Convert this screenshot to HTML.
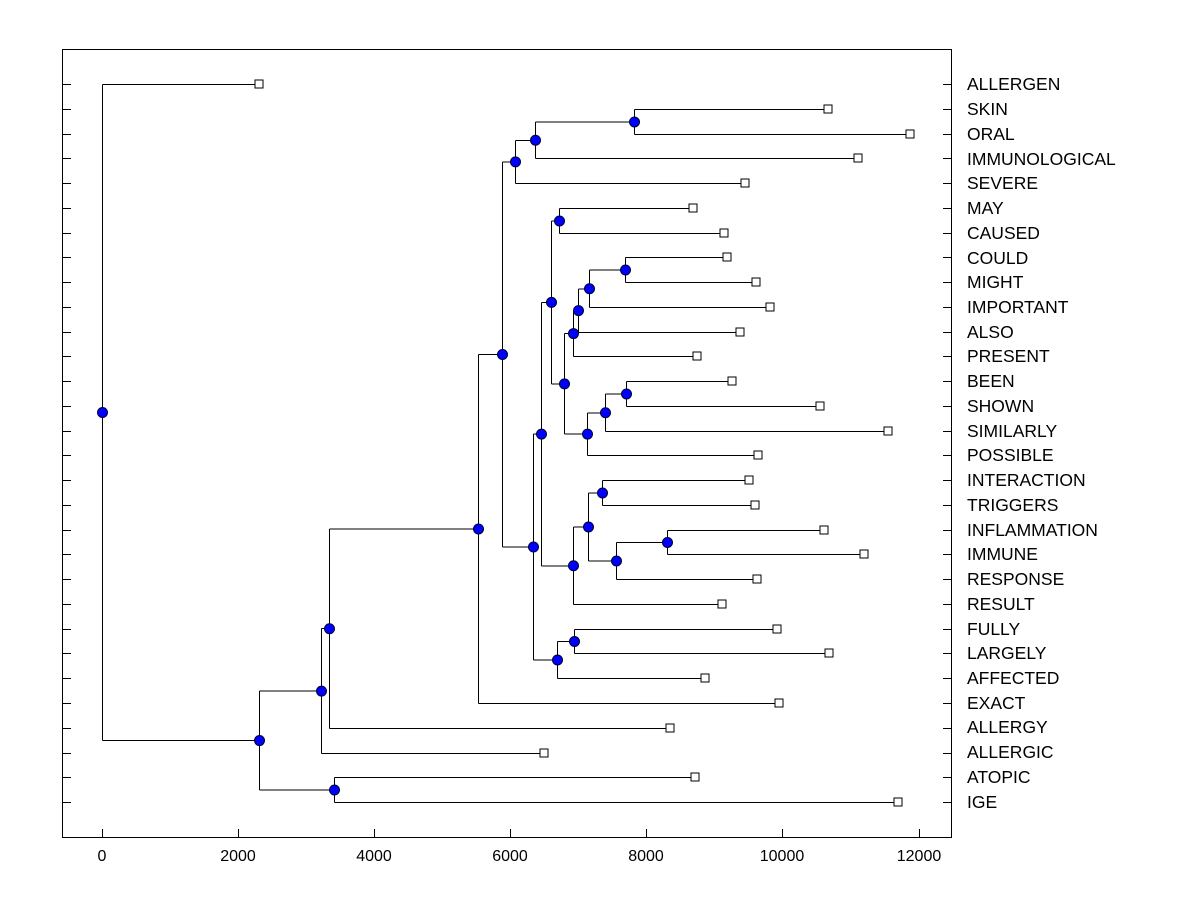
<!DOCTYPE html>
<html><head><meta charset="utf-8"><style>
html,body{margin:0;padding:0;background:#fff;}
svg{display:block;font-family:"Liberation Sans",Arial,sans-serif;}
</style></head><body>
<svg id="s" width="1200" height="900" viewBox="0 0 1200 900" xmlns="http://www.w3.org/2000/svg">
<rect x="0" y="0" width="1200" height="900" fill="#fff"/>
<rect x="62.5" y="49.5" width="889" height="788" fill="none" stroke="#000" stroke-width="1"/>
<g id="lines" stroke="#000" stroke-width="1" fill="none" shape-rendering="crispEdges"></g>
<g id="marks"></g>
<g font-size="16" fill="#000" text-anchor="middle">
<text x="102" y="861">0</text>
<text x="238" y="861">2000</text>
<text x="374" y="861">4000</text>
<text x="510" y="861">6000</text>
<text x="646" y="861">8000</text>
<text x="782" y="861">10000</text>
<text x="919" y="861">12000</text>
</g>
<g font-size="17.5" fill="#000">
<text x="967" y="90">ALLERGEN</text>
<text x="967" y="115">SKIN</text>
<text x="967" y="140">ORAL</text>
<text x="967" y="165">IMMUNOLOGICAL</text>
<text x="967" y="189">SEVERE</text>
<text x="967" y="214">MAY</text>
<text x="967" y="239">CAUSED</text>
<text x="967" y="264">COULD</text>
<text x="967" y="288">MIGHT</text>
<text x="967" y="313">IMPORTANT</text>
<text x="967" y="338">ALSO</text>
<text x="967" y="362">PRESENT</text>
<text x="967" y="387">BEEN</text>
<text x="967" y="412">SHOWN</text>
<text x="967" y="437">SIMILARLY</text>
<text x="967" y="461">POSSIBLE</text>
<text x="967" y="486">INTERACTION</text>
<text x="967" y="511">TRIGGERS</text>
<text x="967" y="536">INFLAMMATION</text>
<text x="967" y="560">IMMUNE</text>
<text x="967" y="585">RESPONSE</text>
<text x="967" y="610">RESULT</text>
<text x="967" y="635">FULLY</text>
<text x="967" y="659">LARGELY</text>
<text x="967" y="684">AFFECTED</text>
<text x="967" y="709">EXACT</text>
<text x="967" y="733">ALLERGY</text>
<text x="967" y="758">ALLERGIC</text>
<text x="967" y="783">ATOPIC</text>
<text x="967" y="808">IGE</text>
</g>
<script>
(function(){
var NS="http://www.w3.org/2000/svg";
var L=document.getElementById("lines"),M=document.getElementById("marks");
function ln(x1,y1,x2,y2){var e=document.createElementNS(NS,"line");e.setAttribute("x1",x1);e.setAttribute("y1",y1);e.setAttribute("x2",x2);e.setAttribute("y2",y2);L.appendChild(e);}
function ry(i){return Math.round(84+i*24.76)+0.5;}
for(var i=0;i<30;i++){var y=ry(i);ln(62,y,71,y);ln(943,y,951,y);}
[102,238,374,510,646,782,919].forEach(function(x){ln(x+0.5,829,x+0.5,837);});
var leafX=[259,828,910,858,745,693,724,727,756,770,740,697,732,820,888,758,749,755,824,864,757,722,777,829,705,779,670,544,695,898];
var leaves=leafX.map(function(x,i){return {x:x,y:ry(i),leaf:true};});
function N(x,a,b){return {x:x,y:(a.y+b.y)/2,a:a,b:b};}
var l=leaves;
var A=N(634,l[1],l[2]),B=N(535,A,l[3]),C=N(515,B,l[4]);
var D=N(559,l[5],l[6]),E=N(625,l[7],l[8]),F=N(589,E,l[9]),G=N(578,F,l[10]),H=N(573,G,l[11]);
var Mm=N(626,l[12],l[13]),Lq=N(605,Mm,l[14]),K=N(587,Lq,l[15]),J=N(564,H,K),I=N(551,D,J);
var Q=N(602,l[16],l[17]),S=N(667,l[18],l[19]),R=N(616,S,l[20]),P=N(588,Q,R),O=N(573,P,l[21]);
var Nn=N(541,I,O);
var V=N(574,l[22],l[23]),U=N(557,V,l[24]),T=N(533,Nn,U);
var W=N(502,C,T),X=N(478,W,l[25]),Y=N(329,X,l[26]),Z=N(321,Y,l[27]);
var AA=N(334,l[28],l[29]),BB=N(259,Z,AA),root=N(102,l[0],BB);
var circles=[];
function draw(n){
 if(n.leaf)return;
 var x=n.x+0.5;
 ln(x,n.a.y,x,n.b.y);
 ln(x,n.a.y,n.a.x,n.a.y);ln(x,n.b.y,n.b.x,n.b.y);
 draw(n.a);draw(n.b);circles.push(n);
}
draw(root);
leaves.forEach(function(n){var r=document.createElementNS(NS,"rect");r.setAttribute("x",n.x-4);r.setAttribute("y",n.y-4.5);r.setAttribute("width",8);r.setAttribute("height",8);r.setAttribute("fill","#fff");r.setAttribute("stroke","#000");M.appendChild(r);});
circles.forEach(function(n){var c=document.createElementNS(NS,"circle");c.setAttribute("cx",n.x+0.5);c.setAttribute("cy",n.y);c.setAttribute("r",5);c.setAttribute("fill","#0000ff");c.setAttribute("stroke","#000033");M.appendChild(c);});
})();
</script>
</svg>
</body></html>
